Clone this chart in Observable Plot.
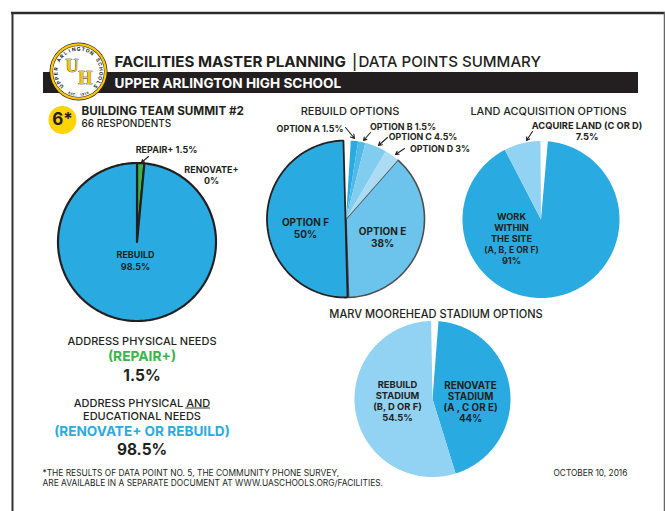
<!DOCTYPE html>
<html><head><meta charset="utf-8">
<script src="https://cdn.jsdelivr.net/npm/d3@7"></script>
<script src="https://cdn.jsdelivr.net/npm/@observablehq/plot@0.6"></script>
<style>
html,body{margin:0;padding:0;background:#fff}
svg{display:block;font-family:Inter,sans-serif}
</style></head><body><div id="c"></div>
<script>
// ---- data (percent of respondents) ----
const summaryNames = ["REPAIR+", "RENOVATE+", "REBUILD"];
const summaryValues = [1.5, 0, 98.5];
const rebuildNames = ["OPTION A", "OPTION B", "OPTION C", "OPTION D", "OPTION E"];
const rebuildValues = [1.5, 1.5, 4.5, 3, 38];
const rebuildFNames = ["OPTION F"];
const rebuildFValues = [50];
const landNames = ["WORK WITHIN THE SITE", "ACQUIRE LAND"];
const landValues = [91, 7.5];
const stadiumNames = ["RENOVATE STADIUM", "REBUILD STADIUM"];
const stadiumValues = [44, 54.5];

// ---- styling ----
const ink = "#231f20", blue = "#29abe2", light = "#92d3f3", green = "#39b54a", gold = "#ffd400";
const deg = Math.PI / 180;

function slices(pie, names, values, colors, cx, cy, r, start) {
  const total = d3.sum(values);
  const arcs = d3.pie().sort(null).startAngle(start * deg).endAngle((start + total * 3.6) * deg)(values);
  return arcs.flatMap((a, i) => {
    if (a.endAngle === a.startAngle) return [];
    const n = Math.max(2, Math.ceil((a.endAngle - a.startAngle) / deg));
    const pts = [{px: cx, py: cy}];
    for (const t of d3.range(n + 1)) {
      const ang = a.startAngle + (a.endAngle - a.startAngle) * t / n;
      pts.push({px: cx + r * Math.sin(ang), py: cy - r * Math.cos(ang)});
    }
    pts.push({px: cx, py: cy});
    return pts.map(p => ({...p, id: pie + names[i], color: colors[i]}));
  });
}
const sliceMark = (pts, stroke, strokeWidth) => Plot.line(pts, {
  x: "px", y: "py", z: "id", fill: "color", stroke, strokeWidth, curve: "linear", strokeLinejoin: "miter"
});

const pie1 = slices("s", summaryNames, summaryValues, [green, gold, blue], 136.5, 241.5, 79, 0);
const pie2a = slices("r", rebuildNames, rebuildValues, [blue, "#4fb9e8", "#80cdf0", "#abdcf4", "#6cc4ec"], 345.5, 218.5, 78.5, 3.5);
const pie2f = slices("f", rebuildFNames, rebuildFValues, [blue], 345, 218.5, 78.5, 178.5);
const pie3 = slices("l", landNames, landValues, [blue, light], 540.5, 219, 78.5, 5);
const pie4 = slices("m", stadiumNames, stadiumValues, [blue, light], 432, 398.5, 78, 4.4);

// ---- texts ----
const bold = [
  {t:"FACILITIES MASTER PLANNING", x:114, y:62, s:15.15, a:"start"},
  {t:"UPPER ARLINGTON HIGH SCHOOL", x:114, y:83, s:13.6, a:"start", c:"#fff"},
  {t:"6*", x:62, y:119, s:17, a:"middle"},
  {t:"BUILDING TEAM SUMMIT #2", x:81, y:111, s:11.7, a:"start"},
  {t:"REPAIR+ 1.5%", x:166, y:149.5, s:9, a:"middle"},
  {t:"RENOVATE+", x:211, y:170, s:9, a:"middle"},
  {t:"0%", x:211, y:181, s:9, a:"middle"},
  {t:"REBUILD", x:135, y:255, s:9, a:"middle"},
  {t:"98.5%", x:135, y:267, s:9, a:"middle"},
  {t:"OPTION A 1.5%", x:309.5, y:128.5, s:8.9, a:"middle"},
  {t:"OPTION B 1.5%", x:402.5, y:127, s:8.9, a:"middle"},
  {t:"OPTION C 4.5%", x:422.5, y:136.5, s:8.9, a:"middle"},
  {t:"OPTION D 3%", x:439.5, y:148.5, s:8.9, a:"middle"},
  {t:"OPTION F", x:305, y:222.5, s:10, a:"middle"},
  {t:"50%", x:305, y:234.5, s:10, a:"middle"},
  {t:"OPTION E", x:382, y:231, s:10, a:"middle"},
  {t:"38%", x:382, y:243, s:10, a:"middle"},
  {t:"ACQUIRE LAND (C OR D)", x:586.5, y:126, s:9.3, a:"middle"},
  {t:"7.5%", x:586.5, y:137, s:9.3, a:"middle"},
  {t:"WORK", x:511, y:217, s:9.2, a:"middle"},
  {t:"WITHIN", x:511, y:228, s:9.2, a:"middle"},
  {t:"THE SITE", x:511, y:239, s:9.2, a:"middle"},
  {t:"(A, B, E OR F)", x:511, y:250, s:8.6, a:"middle"},
  {t:"91%", x:511, y:261, s:9.2, a:"middle"},
  {t:"REBUILD", x:397, y:384, s:9.4, a:"middle"},
  {t:"STADIUM", x:397, y:395, s:9.4, a:"middle"},
  {t:"(B, D OR F)", x:397, y:406, s:9.4, a:"middle"},
  {t:"54.5%", x:397, y:417, s:9.4, a:"middle"},
  {t:"RENOVATE", x:470, y:385.5, s:9.8, a:"middle"},
  {t:"STADIUM", x:470, y:396, s:9.8, a:"middle"},
  {t:"(A , C OR E)", x:470, y:407, s:9.8, a:"middle"},
  {t:"44%", x:470, y:418, s:9.8, a:"middle"},
  {t:"(REPAIR+)", x:141.5, y:356.5, s:13.8, a:"middle", c:green},
  {t:"1.5%", x:141.5, y:375.5, s:15.5, a:"middle"},
  {t:"(RENOVATE+ OR REBUILD)", x:141.5, y:431, s:13.6, a:"middle", c:blue},
  {t:"98.5%", x:141.5, y:449.5, s:15.4, a:"middle"}
];
const medium = [
  {t:"|", x:351.5, y:62, s:15, a:"start"},
  {t:"DATA POINTS SUMMARY", x:358, y:62, s:15.1, a:"start"},
  {t:"66 RESPONDENTS", x:81, y:123.5, s:10, a:"start"},
  {t:"REBUILD OPTIONS", x:349.5, y:110.5, s:11, a:"middle"},
  {t:"LAND ACQUISITION OPTIONS", x:548, y:110.5, s:10.9, a:"middle"},
  {t:"MARV MOOREHEAD STADIUM OPTIONS", x:435.5, y:313.5, s:11.05, a:"middle"},
  {t:"ADDRESS PHYSICAL NEEDS", x:141.5, y:341, s:11, a:"middle"},
  {t:"ADDRESS PHYSICAL AND", x:141.5, y:402.5, s:11, a:"middle"},
  {t:"EDUCATIONAL NEEDS", x:141.5, y:415.5, s:11, a:"middle"}
];
const regular = [
  {t:"*THE RESULTS OF DATA POINT NO. 5, THE COMMUNITY PHONE SURVEY,", x:42, y:472.5, s:8.4, a:"start"},
  {t:"ARE AVAILABLE IN A SEPARATE DOCUMENT AT WWW.UASCHOOLS.ORG/FACILITIES.", x:42, y:482.5, s:8.4, a:"start"},
  {t:"OCTOBER 10, 2016", x:553, y:472.5, s:8.3, a:"start"}
];
const pointers = [
  {x1:148,y1:156,x2:141,y2:162},
  {x1:345,y1:127,x2:354,y2:138},
  {x1:370,y1:132,x2:363,y2:140},
  {x1:387,y1:137,x2:378,y2:145},
  {x1:404,y1:148,x2:395,y2:154},
  {x1:532,y1:131,x2:526,y2:140}
];

// logo ring letters placed around the badge
const logoCx = 78, logoCy = 71;
const ring = (str, mid, span, r, flip) => [...str].map((ch, i) => {
  const a = mid + (i / (str.length - 1) - .5) * span * (flip ? -1 : 1);
  return {ch, x: logoCx + r * Math.sin(a * deg), y: logoCy - r * Math.cos(a * deg), rot: flip ? a + 180 : a};
});
const ringTop = ring("UPPER ARLINGTON SCHOOLS", 0, 262, 22.5, false);
const ringBot = ring("EST. 1918", 180, 46, 23.5, true);

function tm(rows, fontWeight) {
  const marks = [];
  for (const a of ["start", "middle"]) marks.push(Plot.text(rows.filter(d => d.a === a), {
    x: "x", y: "y", text: "t", fontSize: "s", textAnchor: a, fill: d => d.c || ink,
    fontWeight, lineAnchor: "middle"
  }));
  return marks;
}

const chart = Plot.plot({
  width: 665, height: 511, margin: 0,
  x: {domain: [0, 665], range: [0, 665], axis: null},
  y: {domain: [0, 511], range: [0, 511], axis: null},
  color: {type: "identity"},
  style: {background: "#fff", fontFamily: "Inter, sans-serif"},
  marks: [
    // frame
    Plot.ruleY([12.5], {x1: 11, x2: 665, stroke: "#2b2b2b", strokeWidth: 2.5}),
    Plot.ruleX([12], {y1: 12, y2: 511, stroke: "#333", strokeWidth: 2}),
    Plot.ruleX([664], {y1: 12, y2: 511, stroke: "#666", strokeWidth: 1.5}),
    // header bar
    Plot.rect([{}], {x1: () => 43, x2: () => 638, y1: () => 72, y2: () => 93, fill: ink}),
    // badge
    Plot.dot([0], {x: () => logoCx, y: () => logoCy, r: 29, fill: ink}),
    Plot.dot([0], {x: () => logoCx, y: () => logoCy, r: 28.3, fill: "#ffc800"}),
    Plot.dot([0], {x: () => logoCx, y: () => logoCy, r: 26, fill: ink}),
    Plot.dot([0], {x: () => logoCx, y: () => logoCy, r: 25.5, fill: "#fff"}),
    Plot.text(ringTop, {x: "x", y: "y", text: "ch", rotate: "rot", fontSize: 5, fontWeight: 700, fill: ink}),
    Plot.text(ringBot, {x: "x", y: "y", text: "ch", rotate: "rot", fontSize: 3.4, fontWeight: 700, fill: ink}),
    Plot.text(["U"], {x: () => 71.5, y: () => 65.5, text: d => d, fontSize: 18, fontWeight: 700, fontFamily: "Liberation Serif", fill: "#f7c600", stroke: ink, strokeWidth: .7}),
    Plot.text(["H"], {x: () => 84.8, y: () => 77.5, text: d => d, fontSize: 18, fontWeight: 700, fontFamily: "Liberation Serif", fill: "#f7c600", stroke: ink, strokeWidth: .7}),
    // yellow number disc
    Plot.dot([0], {x: () => 62, y: () => 119.5, r: 14, fill: gold}),
    // pies
    sliceMark(pie1, ink, 2.2),
    sliceMark(pie2a.filter(d => d.id === "rOPTION E"), "#4d4d4f", 1.6),
    sliceMark(pie2a.filter(d => d.id !== "rOPTION E"), "none", 0),
    sliceMark(pie2f, ink, 1.8),
    sliceMark(pie3, "none", 0),
    sliceMark(pie4, "none", 0),
    Plot.arrow(pointers, {x1: "x1", y1: "y1", x2: "x2", y2: "y2", stroke: ink, strokeWidth: 1.1, headLength: 6, bend: 0}),
    ...tm(bold, 700),
    ...tm(medium, 500),
    ...tm(regular, 400),
    // "AND" underline
    Plot.ruleY([407.5], {x1: 185, x2: 210, stroke: ink, strokeWidth: .9})
  ]
});
document.getElementById("c").appendChild(chart);
</script></body></html>
